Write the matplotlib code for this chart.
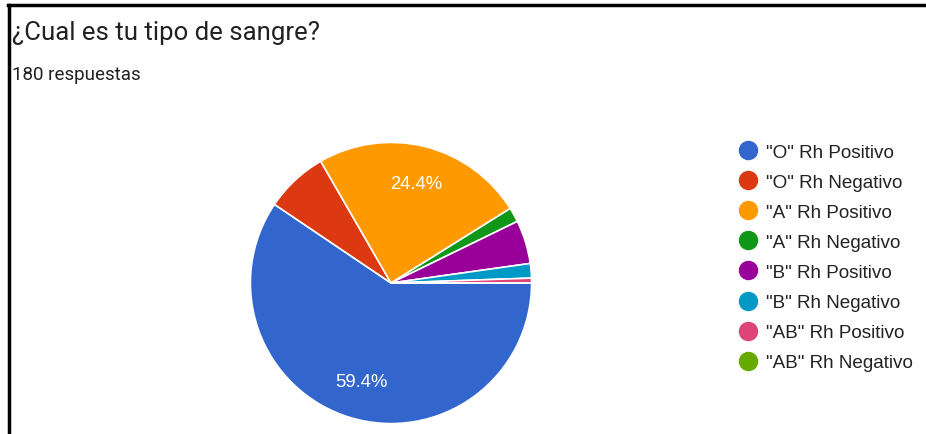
import matplotlib.pyplot as plt
from matplotlib.lines import Line2D

# datos de la encuesta (180 respuestas)
labels = ['"O" Rh Positivo', '"O" Rh Negativo', '"A" Rh Positivo', '"A" Rh Negativo',
          '"B" Rh Positivo', '"B" Rh Negativo', '"AB" Rh Positivo', '"AB" Rh Negativo']
counts = [107, 13, 44, 3, 9, 3, 1, 0]
colors = ['#3366cc', '#dc3912', '#ff9900', '#109618',
          '#990099', '#0099c6', '#dd4477', '#66aa00']

W, H = 926, 435
fig = plt.figure(figsize=(W / 100, H / 100), dpi=100)

def pct_label(p):
    # google solo etiqueta las rebanadas grandes
    return f'{p:.1f}%' if p > 10 else ''

ax = fig.add_axes([249 / W, (H - 426) / H, 284 / W, 284 / H])
wedges, texts, autotexts = ax.pie(
    counts, colors=colors, startangle=0, counterclock=False,
    autopct=pct_label, pctdistance=0.73,
    wedgeprops=dict(edgecolor='white', linewidth=1.2),
    textprops=dict(color='white', fontsize=13.3, family='Liberation Sans'))
ax.set_xlim(-1.01, 1.01)
ax.set_ylim(-1.01, 1.01)
ax.set_aspect('equal')

fig.text(12 / W, 1 - 33 / H, '¿Cual es tu tipo de sangre?', fontsize=18.5,
         family='Roboto', color='#212121', va='center', ha='left')
fig.text(12 / W, 1 - 75 / H, '180 respuestas', fontsize=13.5,
         family='Roboto', color='#212121', va='center', ha='left')

handles = [Line2D([], [], marker='o', linestyle='', markersize=13,
                  markerfacecolor=c, markeredgecolor=c) for c in colors]
fig.legend(handles, labels, loc='upper left', bbox_to_anchor=(726 / W, 1 - 137 / H),
           frameon=False, prop=dict(family='Liberation Sans', size=13.6),
           labelspacing=0.68, handletextpad=0.2, handlelength=1.5, borderaxespad=0,
           labelcolor='#222222')

# marco superior e izquierdo de la captura
fig.add_artist(Line2D([9 / W, 9 / W], [0, 1 - 6 / H], color='black', linewidth=2.5))
fig.add_artist(Line2D([8 / W, 1], [1 - 6 / H, 1 - 6 / H], color='black', linewidth=2.5))

fig.savefig('out.png', dpi=100)
